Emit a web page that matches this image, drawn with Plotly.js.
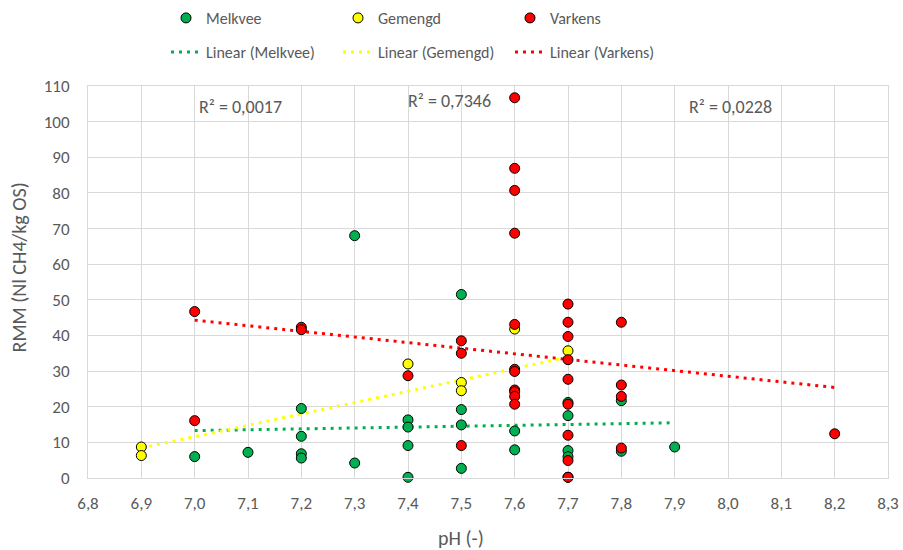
<!DOCTYPE html>
<html>
<head>
<meta charset="utf-8">
<script src="https://cdn.plot.ly/plotly-3.0.1.min.js"></script>
<style>
  html, body { margin: 0; padding: 0; background: #ffffff; }
  #chart { width: 903px; height: 550px; }
</style>
</head>
<body>
<div id="chart"></div>
<script>
// pH and RMM per sample, grouped by manure type
const melkveePH  = [7.0, 7.1, 7.2, 7.2, 7.2, 7.2, 7.3, 7.3, 7.4, 7.4, 7.4, 7.4, 7.5, 7.5, 7.5, 7.5, 7.6, 7.6, 7.7, 7.7, 7.7, 7.7, 7.8, 7.8, 7.9];
const melkveeRMM = [6.0, 7.2, 19.5, 11.7, 6.8, 5.6, 68.0, 4.2, 16.3, 14.3, 9.1, 0.2, 51.5, 19.2, 14.9, 2.7, 13.2, 7.9, 21.2, 17.5, 7.7, 6.0, 21.7, 7.5, 8.7];

const gemengdPH  = [6.9, 6.9, 7.4, 7.5, 7.5, 7.6, 7.7];
const gemengdRMM = [8.7, 6.3, 32.0, 26.8, 24.5, 41.8, 35.7];

const varkensPH  = [7.0, 7.0, 7.2, 7.2, 7.4, 7.5, 7.5, 7.5, 7.6, 7.6, 7.6, 7.6, 7.6, 7.6, 7.6, 7.6, 7.6, 7.6, 7.6, 7.7, 7.7, 7.7, 7.7, 7.7, 7.7, 7.7, 7.7, 7.7, 7.7, 7.8, 7.8, 7.8, 7.8, 8.2];
const varkensRMM = [46.7, 16.1, 42.3, 41.6, 28.7, 38.5, 35.0, 9.1, 106.7, 86.9, 80.7, 68.7, 43.1, 30.5, 29.9, 24.7, 24.2, 22.9, 20.7, 48.8, 43.7, 39.7, 33.2, 27.7, 20.7, 12.0, 4.9, 0.2, 0.2, 43.7, 26.1, 22.9, 8.4, 12.4];

// Linear trend lines (end points) and their R² values
const trendMelkveePH  = [7.0, 7.9];
const trendMelkveeRMM = [13.3, 15.5];
const trendGemengdPH  = [6.9, 7.7];
const trendGemengdRMM = [8.4, 33.9];
const trendVarkensPH  = [7.0, 8.2];
const trendVarkensRMM = [44.3, 25.4];
const r2Labels = ['R² = 0,0017', 'R² = 0,7346', 'R² = 0,0228'];

const xTicks = [6.8, 6.9, 7.0, 7.1, 7.2, 7.3, 7.4, 7.5, 7.6, 7.7, 7.8, 7.9, 8.0, 8.1, 8.2, 8.3];
const yTicks = [0, 10, 20, 30, 40, 50, 60, 70, 80, 90, 100, 110];

const FONT = 'Carlito, Calibri, Lato, "Open Sans", sans-serif';
const GREY = '#595959';
const GRID = '#d9d9d9';

const GREEN = '#00b050';
const YELLOW = '#ffff00';
const RED = '#ff0000';

function pts(name, x, y, color) {
  return {
    type: 'scatter', mode: 'markers', name: name, x: x, y: y,
    legend: 'legend',
    cliponaxis: false,
    marker: { color: color, size: 10, line: { color: '#000000', width: 1 } },
    hoverinfo: 'x+y'
  };
}
function trend(name, x, y, color) {
  return {
    type: 'scatter', mode: 'lines', name: name, x: x, y: y,
    legend: 'legend2',
    line: { color: color, width: 3, dash: '3px,5px' },
    hoverinfo: 'skip'
  };
}

const traces = [
  trend('Linear (Melkvee)', trendMelkveePH, trendMelkveeRMM, GREEN),
  trend('Linear (Gemengd)', trendGemengdPH, trendGemengdRMM, YELLOW),
  trend('Linear (Varkens)', trendVarkensPH, trendVarkensRMM, RED),
  pts('Melkvee', melkveePH, melkveeRMM, GREEN),
  pts('Gemengd', gemengdPH, gemengdRMM, YELLOW),
  pts('Varkens', varkensPH, varkensRMM, RED)
];

const legendBase = {
  orientation: 'h',
  xref: 'container', yref: 'container',
  xanchor: 'left', yanchor: 'middle',
  font: { family: FONT, size: 16, color: GREY },
  bgcolor: 'rgba(0,0,0,0)',
  entrywidth: 127,
  traceorder: 'normal'
};

const titleFont = { family: FONT, size: 20, color: GREY };
const r2Font = { family: FONT, size: 18, color: GREY };

const layout = {
  width: 903, height: 550,
  margin: { l: 88, r: 15, t: 86, b: 72 },
  paper_bgcolor: '#ffffff',
  plot_bgcolor: '#ffffff',
  separators: ',.',
  font: { family: FONT, size: 17, color: GREY },
  showlegend: true,
  legend:  Object.assign({}, legendBase, { x: 166 / 903, y: 1 - 18 / 550 }),
  legend2: Object.assign({}, legendBase, { x: 166 / 903, y: 1 - 52 / 550 }),
  xaxis: {
    range: [6.8, 8.3],
    tickvals: xTicks,
    tickformat: '.1f',
    showgrid: true, gridcolor: GRID, gridwidth: 1,
    zeroline: false,
    showline: true, linecolor: GRID, linewidth: 1, mirror: true,
    ticks: '', ticklen: 0,
    ticklabelstandoff: 10,
    tickfont: { family: FONT, size: 17, color: GREY }
  },
  yaxis: {
    range: [0, 110],
    tickvals: yTicks,
    showgrid: true, gridcolor: GRID, gridwidth: 1,
    zeroline: false,
    showline: true, linecolor: GRID, linewidth: 1, mirror: true,
    ticks: '', ticklen: 0,
    ticklabelstandoff: 14,
    tickfont: { family: FONT, size: 17, color: GREY }
  },
  annotations: [
    { text: 'pH (-)', xref: 'paper', yref: 'paper', x: (461 - 88) / 800, y: -(538 - 478) / 392.7,
      xanchor: 'center', yanchor: 'middle', showarrow: false, font: titleFont },
    { text: 'RMM (Nl CH4/kg OS)', xref: 'paper', yref: 'paper', x: -(88 - 19) / 800, y: (478 - 267) / 392.7,
      xanchor: 'center', yanchor: 'middle', textangle: -90, showarrow: false, font: titleFont },
    { text: r2Labels[0], xref: 'paper', yref: 'paper', x: (197 - 88) / 800, y: (478 - 106) / 392.7,
      xanchor: 'left', yanchor: 'middle', showarrow: false, font: r2Font },
    { text: r2Labels[1], xref: 'paper', yref: 'paper', x: (406 - 88) / 800, y: (478 - 100) / 392.7,
      xanchor: 'left', yanchor: 'middle', showarrow: false, font: r2Font },
    { text: r2Labels[2], xref: 'paper', yref: 'paper', x: (687 - 88) / 800, y: (478 - 106) / 392.7,
      xanchor: 'left', yanchor: 'middle', showarrow: false, font: r2Font }
  ]
};

Plotly.newPlot('chart', traces, layout, { displayModeBar: false, staticPlot: true });
</script>
</body>
</html>
